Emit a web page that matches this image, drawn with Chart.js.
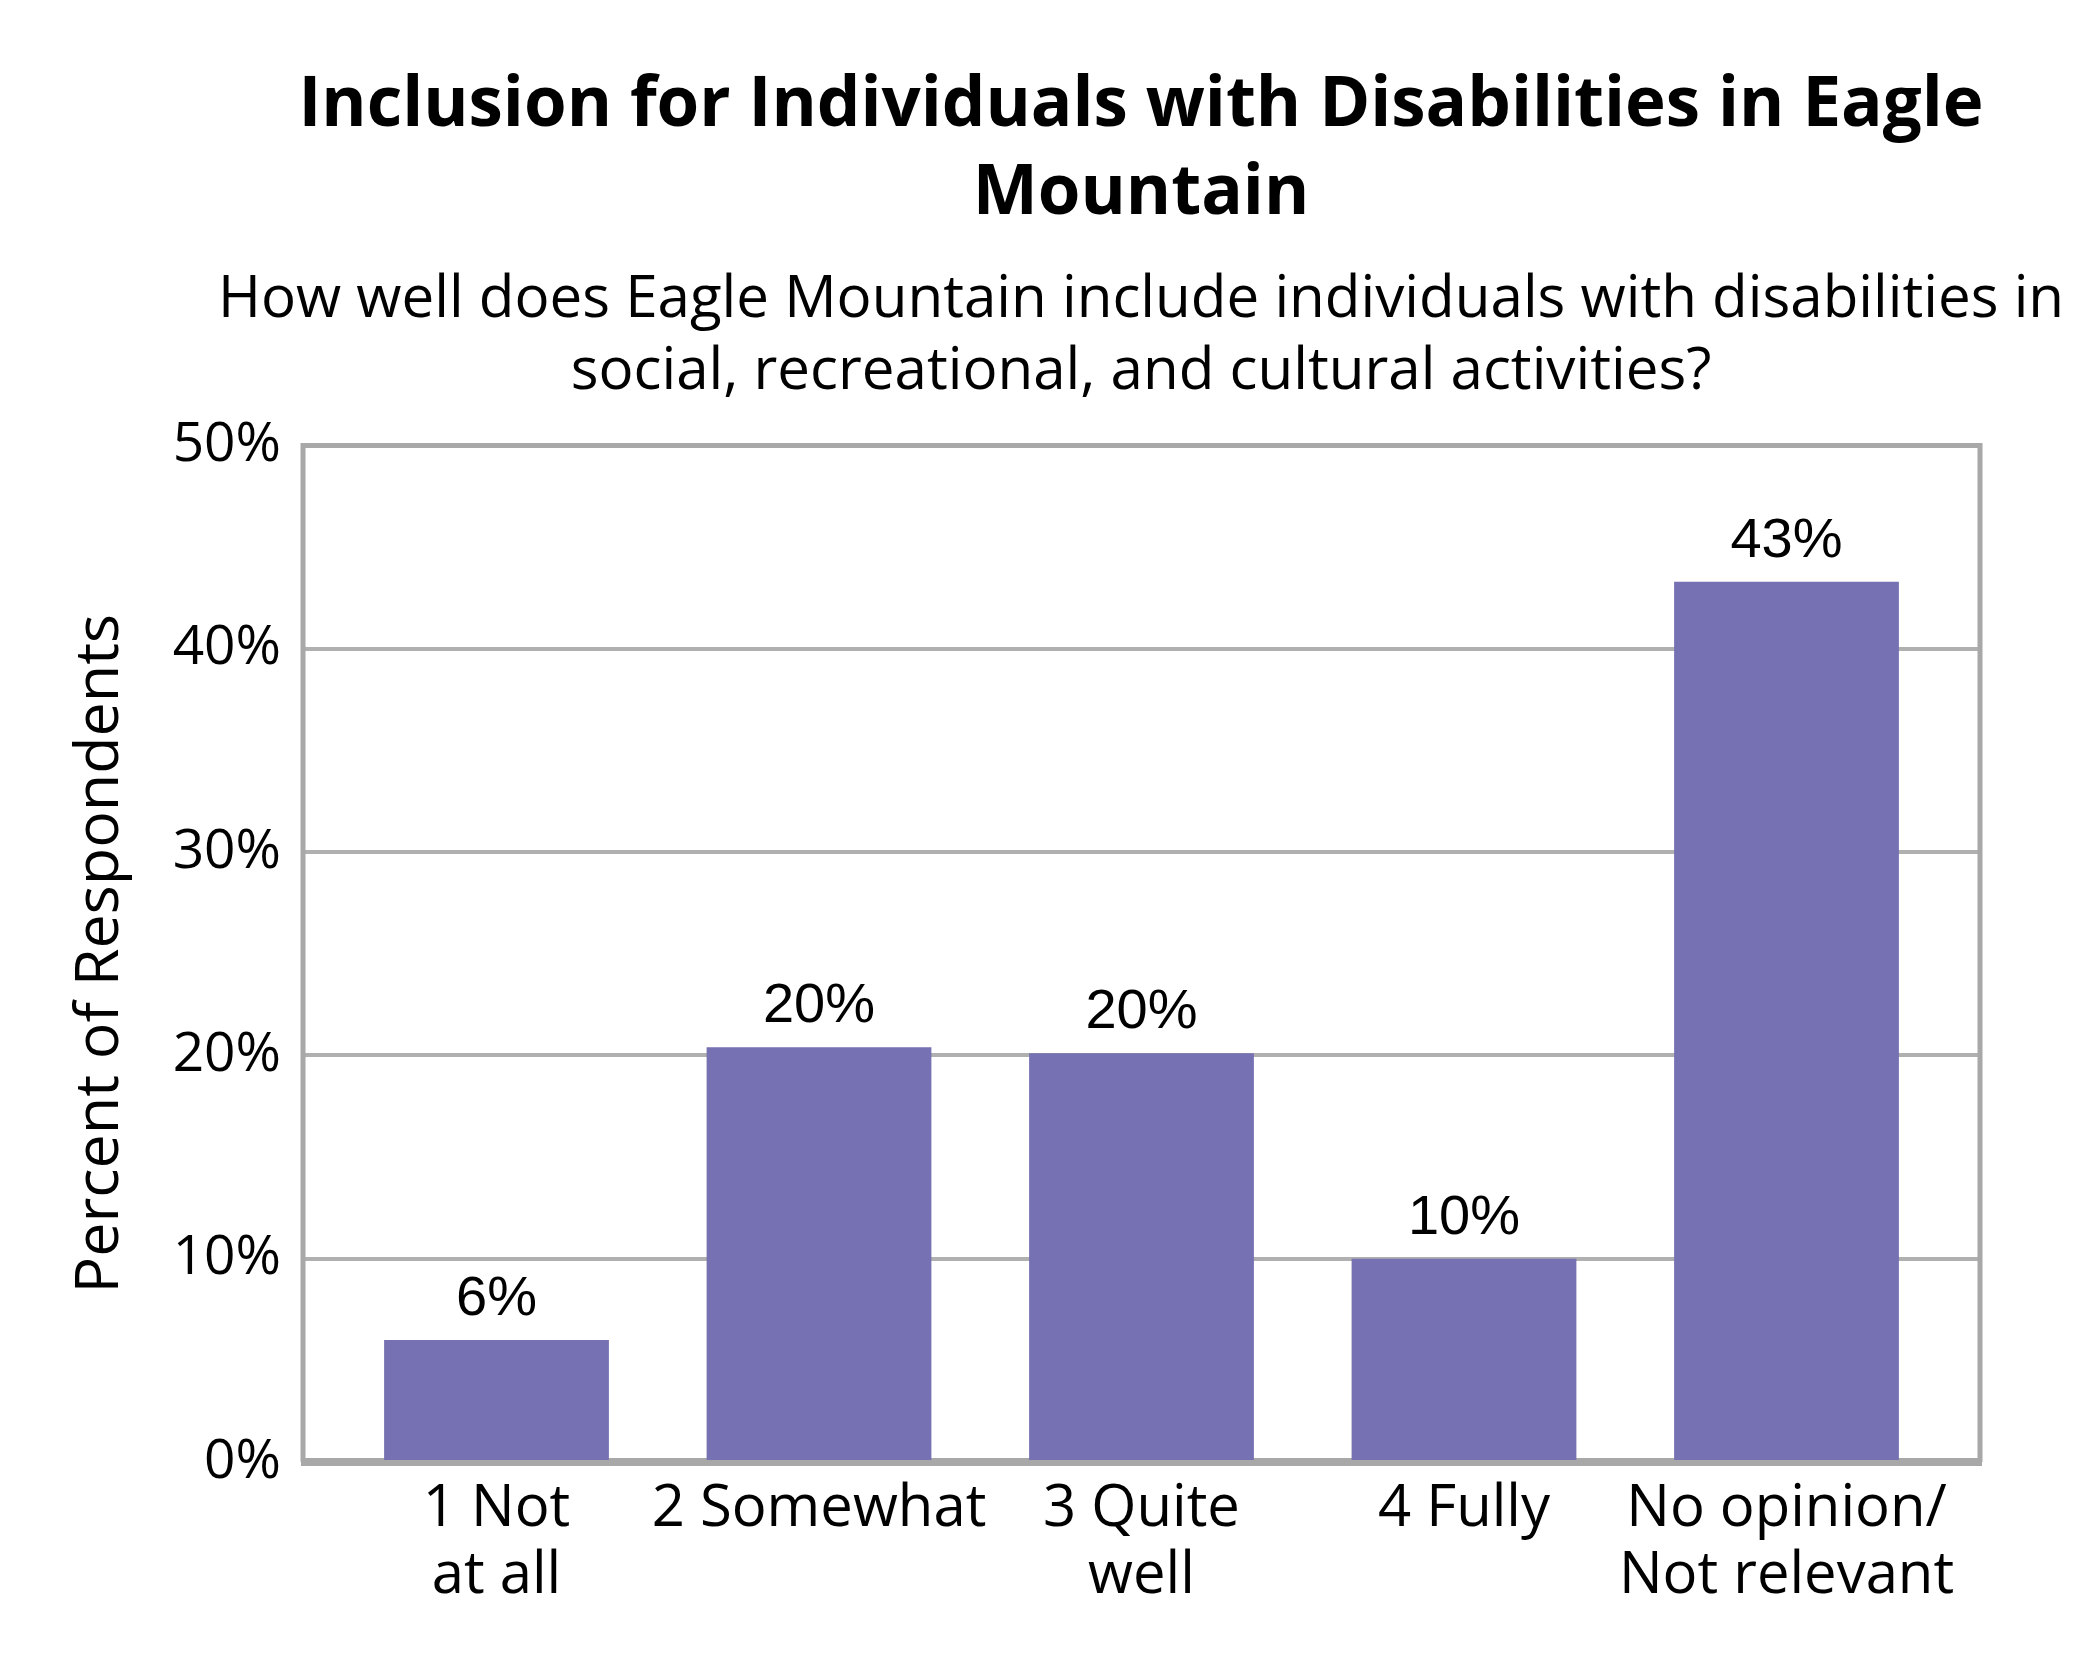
<!DOCTYPE html>
<html lang="en">
<head>
<meta charset="UTF-8">
<title>Inclusion for Individuals with Disabilities in Eagle Mountain</title>
<script src="https://cdn.jsdelivr.net/npm/chart.js@4.4.0/dist/chart.umd.min.js"></script>
<style>
  body { margin: 0; background: #ffffff; }
  #chart { display: block; }
</style>
</head>
<body>
<canvas id="chart" width="2100" height="1680"></canvas>
<script>
// values
const categories = [['1 Not', 'at all'], '2 Somewhat', ['3 Quite', 'well'], '4 Fully', ['No opinion/', 'Not relevant']];
const percentages = [6.0, 20.4, 20.1, 10.0, 43.3];
const yTicks = [0, 10, 20, 30, 40, 50];

const titleLines = ['Inclusion for Individuals with Disabilities in Eagle', 'Mountain'];
const subtitleLines = ['How well does Eagle Mountain include individuals with disabilities in',
                       'social, recreational, and cultural activities?'];

const barColor = '#7571b2';
const gridColor = '#b0b0b0';
const frameColor = '#a8a8a8';
const textFont = '"Open Sans", sans-serif';

// grey box round the plot area, under the bars
const plotFrame = {
    id: 'plotFrame',
    beforeDatasetsDraw(chart) {
        const {ctx, chartArea: a} = chart;
        ctx.save();
        ctx.strokeStyle = frameColor;
        ctx.lineWidth = 5;
        ctx.beginPath();
        ctx.moveTo(a.left, a.bottom);
        ctx.lineTo(a.left, a.top);
        ctx.lineTo(a.right, a.top);
        ctx.lineTo(a.right, a.bottom);
        ctx.stroke();
        ctx.lineWidth = 8;
        ctx.beginPath();
        ctx.moveTo(a.left - 2, a.bottom);
        ctx.lineTo(a.right + 2, a.bottom);
        ctx.stroke();
        ctx.restore();
    }
};

// percentage labels above each bar
const barLabels = {
    id: 'barLabels',
    afterDatasetsDraw(chart) {
        const {ctx} = chart;
        const meta = chart.getDatasetMeta(0);
        const size = 56;
        ctx.save();
        ctx.font = size + 'px "Liberation Sans", Arial, sans-serif';
        ctx.textAlign = 'center';
        ctx.textBaseline = 'alphabetic';
        meta.data.forEach((bar, i) => {
            const text = Math.round(percentages[i]) + '%';
            const y = bar.y - 25;
            const w = ctx.measureText(text).width;
            ctx.fillStyle = '#ffffff';
            ctx.fillRect(bar.x - w / 2, y - size * 0.95, w, size * 1.15);
            ctx.fillStyle = '#000000';
            ctx.fillText(text, bar.x, y);
        });
        ctx.restore();
    }
};

new Chart(document.getElementById('chart'), {
    type: 'bar',
    data: {
        datasets: [{
            data: percentages.map((v, i) => ({ x: i, y: v })),
            backgroundColor: barColor,
            borderWidth: 0,
            categoryPercentage: 1,
            barPercentage: 0.697
        }]
    },
    options: {
        responsive: false,
        devicePixelRatio: 1,
        animation: false,
        layout: { padding: { left: 160, right: -22, top: 0, bottom: 0 } },
        plugins: {
            legend: { display: false },
            tooltip: { enabled: false },
            title: {
                display: true,
                text: titleLines,
                color: '#000000',
                font: { family: textFont, size: 69, weight: 'bold', lineHeight: 1.27 },
                padding: { top: 63, bottom: 0 }
            },
            subtitle: {
                display: true,
                text: subtitleLines,
                color: '#000000',
                font: { family: textFont, size: 58.3, weight: 'normal', lineHeight: 1.22 },
                padding: { top: 27, bottom: 38 }
            }
        },
        scales: {
            x: {
                type: 'linear',
                min: -0.6,
                max: 4.6,
                offset: false,
                grid: { display: false, drawTicks: false },
                border: { display: false },
                ticks: {
                    color: '#000000',
                    padding: 14,
                    maxRotation: 0,
                    autoSkip: false,
                    font: { family: textFont, size: 58, lineHeight: 1.155 },
                    callback: v => categories[v]
                },
                afterBuildTicks(scale) { scale.ticks = categories.map((c, i) => ({ value: i })); },
                afterFit(scale) { scale.height = 218; }
            },
            y: {
                min: 0,
                max: 50,
                grid: { color: gridColor, lineWidth: 4, drawTicks: false },
                border: { display: false },
                ticks: {
                    color: '#000000',
                    padding: 22,
                    font: { family: textFont, size: 55 },
                    callback: v => v + '%'
                },
                afterBuildTicks(scale) { scale.ticks = yTicks.map(v => ({ value: v })); },
                title: {
                    display: true,
                    text: 'Percent of Respondents',
                    color: '#000000',
                    font: { family: textFont, size: 61, lineHeight: 1.2 },
                    padding: { top: -96, bottom: 0 }
                },
                afterFit(scale) { scale.width = 143; }
            },
            yRight: {
                type: 'linear',
                position: 'right',
                grid: { display: false },
                border: { display: false },
                ticks: { display: false },
                afterFit(scale) { scale.width = 142; }
            }
        }
    },
    plugins: [plotFrame, barLabels]
});
</script>
</body>
</html>
